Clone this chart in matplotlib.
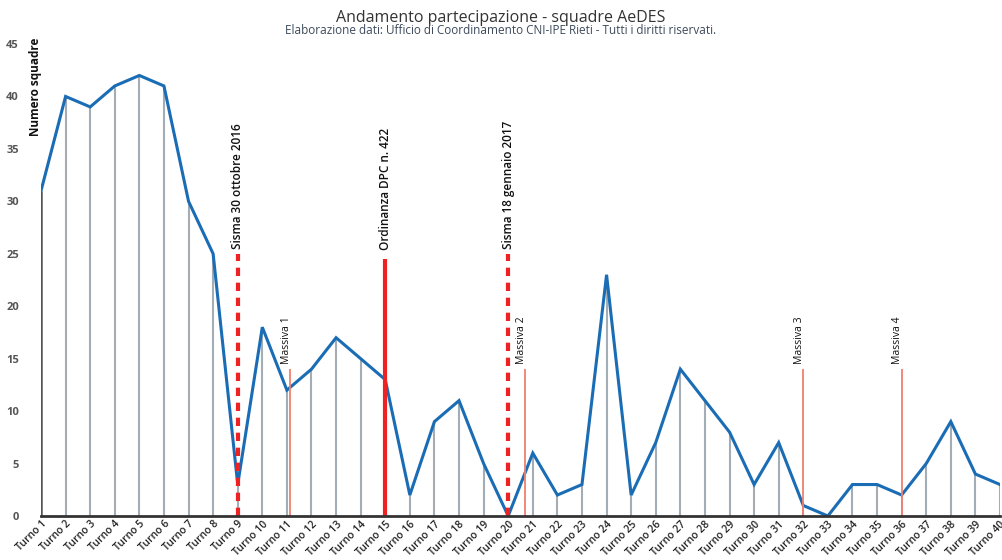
import matplotlib
matplotlib.use("Agg")
import matplotlib.pyplot as plt

plt.rcParams['font.family'] = ['Open Sans', 'DejaVu Sans']

turni = [f"Turno {i}" for i in range(1, 41)]
squadre = [31, 40, 39, 41, 42, 41, 30, 25, 3, 18,
           12, 14, 17, 15, 13, 2, 9, 11, 5, 0,
           6, 2, 3, 23, 2, 7, 14, 11, 8, 3,
           7, 1, 0, 3, 3, 2, 5, 9, 4, 3]

# events: (label, position in turni units, height)
eventi_sisma = [("Sisma 30 ottobre 2016", 9, 25), ("Sisma 18 gennaio 2017", 20, 25)]
evento_ordinanza = ("Ordinanza DPC n. 422", 15, 24.5)
eventi_massiva = [("Massiva 1", 11.12, 14), ("Massiva 2", 20.7, 14),
                  ("Massiva 3", 32, 14), ("Massiva 4", 36, 14)]

fig = plt.figure(figsize=(10.02, 5.6), dpi=100)
ax = fig.add_axes([41 / 1002, 44 / 560, 959 / 1002, 472 / 560])

x = list(range(1, 41))

# drop lines from each point to the axis
ax.vlines(x[1:], 0, squadre[1:], color="#a3adb5", lw=1.5, zorder=1)
ax.vlines(x[0], 0, squadre[0], color="#555555", lw=1.8, zorder=1)

ax.plot(x, squadre, color="#1a6db5", lw=2.2, zorder=3, solid_joinstyle="miter")

for lab, pos, h in eventi_sisma:
    ax.vlines(pos, 0, h, color="#ee2222", lw=3, linestyles=(0, (2.0, 1.6)), zorder=4)
    ax.text(pos, h + 0.5, lab, rotation=90, ha="center", va="bottom",
            fontsize=8.5, fontweight="semibold", color="#111111")

lab, pos, h = evento_ordinanza
ax.vlines(pos, 0, h, color="#ee2222", lw=3, zorder=4)
ax.text(pos, h + 0.9, lab, rotation=90, ha="center", va="bottom",
        fontsize=8.5, fontweight="semibold", color="#111111")

for lab, pos, h in eventi_massiva:
    ax.vlines(pos, 0, h, color="#f08070", lw=1.3, zorder=4)
    ax.text(pos - 0.15, h + 0.5, lab, rotation=90, ha="center", va="bottom",
            fontsize=7.5, fontweight="medium", color="#111111")

ax.set_xlim(1, 40)
ax.set_ylim(0, 45)
ax.set_yticks(range(0, 46, 5))
ax.set_xticks(x)
ax.set_xticklabels(turni, rotation=45, ha="right", rotation_mode="anchor",
                   fontsize=7.5, color="#222222", fontweight="semibold")
ax.tick_params(axis="x", length=0, pad=2)
ax.tick_params(axis="y", length=0, pad=16, labelsize=8, labelcolor="#555555")
for t in ax.get_yticklabels():
    t.set_fontweight("bold")
for t in ax.get_xticklabels():
    t.set_x(t.get_position()[0])

for s in ["top", "right", "left"]:
    ax.spines[s].set_visible(False)
ax.spines["bottom"].set_color("#333333")
ax.spines["bottom"].set_linewidth(2)
ax.spines["bottom"].set_zorder(5)

fig.text(35 / 1002, 1 - 38 / 560, "Numero squadre", rotation=90, ha="center", va="top",
         fontsize=8.5, fontweight="bold", color="#111111")

fig.text(0.5, 1 - 18 / 560, "Andamento partecipazione - squadre AeDES", ha="center",
         va="center", fontsize=11.5, color="#333333")
fig.text(0.5, 1 - 31 / 560,
         "Elaborazione dati: Ufficio di Coordinamento CNI-IPE Rieti - Tutti i diritti riservati.",
         ha="center", va="center", fontsize=8.5, color="#3d4a5c")

fig.savefig("out.png", dpi=100)
